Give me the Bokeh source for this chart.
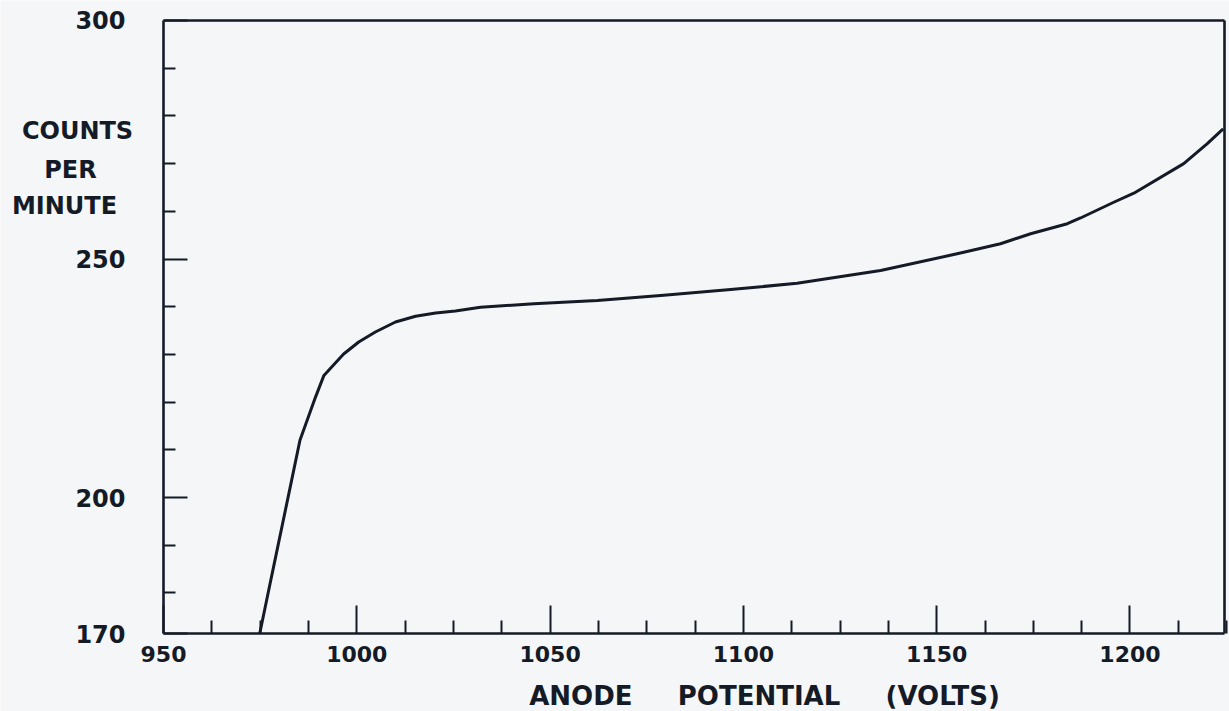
from bokeh.plotting import figure
from bokeh.models import FixedTicker, Label, Range1d, LinearAxis
from bokeh.embed import file_html
from bokeh.resources import INLINE

# ---- data ----
volts = [974.9, 977.2, 979.0, 980.8, 982.6, 985.3, 989.3, 991.5,
         994.1, 996.6, 1000.5, 1004.8, 1010.0, 1015.2, 1020.4, 1025.5,
         1032.0, 1045.8, 1062.2, 1079.4, 1096.7, 1113.9, 1135.5, 1157.0,
         1166.5, 1174.3, 1183.8, 1187.2, 1195.8, 1201.0, 1213.9, 1220.0, 1224.1]
counts = [171.5, 180.5, 187.5, 194.5, 201.5, 212.0, 221.0, 225.6,
          227.9, 230.1, 232.6, 234.7, 236.8, 238.0, 238.7, 239.1,
          239.9, 240.6, 241.3, 242.4, 243.6, 244.9, 247.6, 251.4,
          253.2, 255.3, 257.4, 258.6, 261.9, 263.8, 270.0, 274.2, 277.3]

x_major = [950, 1000, 1050, 1100, 1150, 1200]
x_minor = [950 + 12.5 * i for i in range(23) if (12.5 * i) % 50 != 0]
y_major = [171.5, 200, 250, 300]
y_minor = [180, 190, 210, 220, 230, 240, 260, 270, 280, 290]
y_label_overrides = {171.5: "170"}
y_title_lines = ["COUNTS", "PER", "MINUTE"]
NB = "\u00a0" * 5
x_title = "ANODE" + NB + "POTENTIAL" + NB + "(VOLTS)"

X_LO, X_HI = 950, 1224.45      # plotted box in data units
Y_LO, Y_HI = 171.5, 300

INK = "#141b26"
PAPER = "#f5f6f8"
FONT = "DejaVu Sans"

p = figure(width=1229, height=711, output_backend="svg", toolbar_location=None,
           x_range=Range1d(907.84, 1225.74), y_range=Range1d(155.15, 304.19),
           x_axis_location=None, y_axis_location=None,
           min_border=0, min_border_left=0, min_border_right=0,
           min_border_top=0, min_border_bottom=0)
p.background_fill_color = PAPER
p.border_fill_color = PAPER
p.outline_line_color = None
p.xgrid.visible = False
p.ygrid.visible = False

p.line(volts, counts, line_color=INK, line_width=3, line_join="round")


def style_axis(ax, tick_in, minor_in, standoff, size):
    ax.axis_line_color = INK
    ax.axis_line_width = 2.6
    ax.major_tick_line_color = INK
    ax.major_tick_line_width = 2
    ax.minor_tick_line_color = INK
    ax.minor_tick_line_width = 2
    ax.major_tick_in = tick_in
    ax.major_tick_out = 0
    ax.minor_tick_in = minor_in
    ax.minor_tick_out = 0
    ax.major_label_standoff = standoff
    ax.major_label_text_font = FONT
    ax.major_label_text_font_style = "bold"
    ax.major_label_text_font_size = size
    ax.major_label_text_color = INK


# bottom axis
xa = LinearAxis(ticker=FixedTicker(ticks=x_major, minor_ticks=x_minor),
                fixed_location=Y_LO, bounds=(X_LO, X_HI))
style_axis(xa, 28, 13, 12, "22px")
p.add_layout(xa, "below")

# left axis
ya = LinearAxis(ticker=FixedTicker(ticks=y_major, minor_ticks=y_minor),
                fixed_location=X_LO, bounds=(Y_LO, Y_HI),
                major_label_overrides=y_label_overrides)
style_axis(ya, 24, 12, 38, "24px")
p.add_layout(ya, "left")

# top and right edges of the box (axes without ticks)
for loc, fixed, bnds in [("above", Y_HI, (X_LO, X_HI)), ("right", X_HI, (Y_LO, Y_HI))]:
    ax = LinearAxis(ticker=FixedTicker(ticks=[], minor_ticks=[]),
                    fixed_location=fixed, bounds=bnds)
    ax.axis_line_color = INK
    ax.axis_line_width = 2.6
    ax.major_tick_line_color = None
    ax.minor_tick_line_color = None
    ax.major_label_text_alpha = 0
    p.add_layout(ax, loc)

# y title (three horizontal lines, upper left)
for txt, lx, ly in zip(y_title_lines, [927.76, 925.95, 924.4], [276.73, 268.76, 261.21]):
    p.add_layout(Label(x=lx, y=ly, text=txt, text_align="center",
                       text_baseline="middle", text_font=FONT,
                       text_font_style="bold", text_font_size="24px",
                       text_color=INK))

# x title
p.add_layout(Label(x=1105.46, y=158.3, text=x_title, text_align="center",
                   text_baseline="middle", text_font=FONT,
                   text_font_style="bold", text_font_size="26px",
                   text_color=INK))

open("out.html", "w").write(file_html(p, INLINE))
